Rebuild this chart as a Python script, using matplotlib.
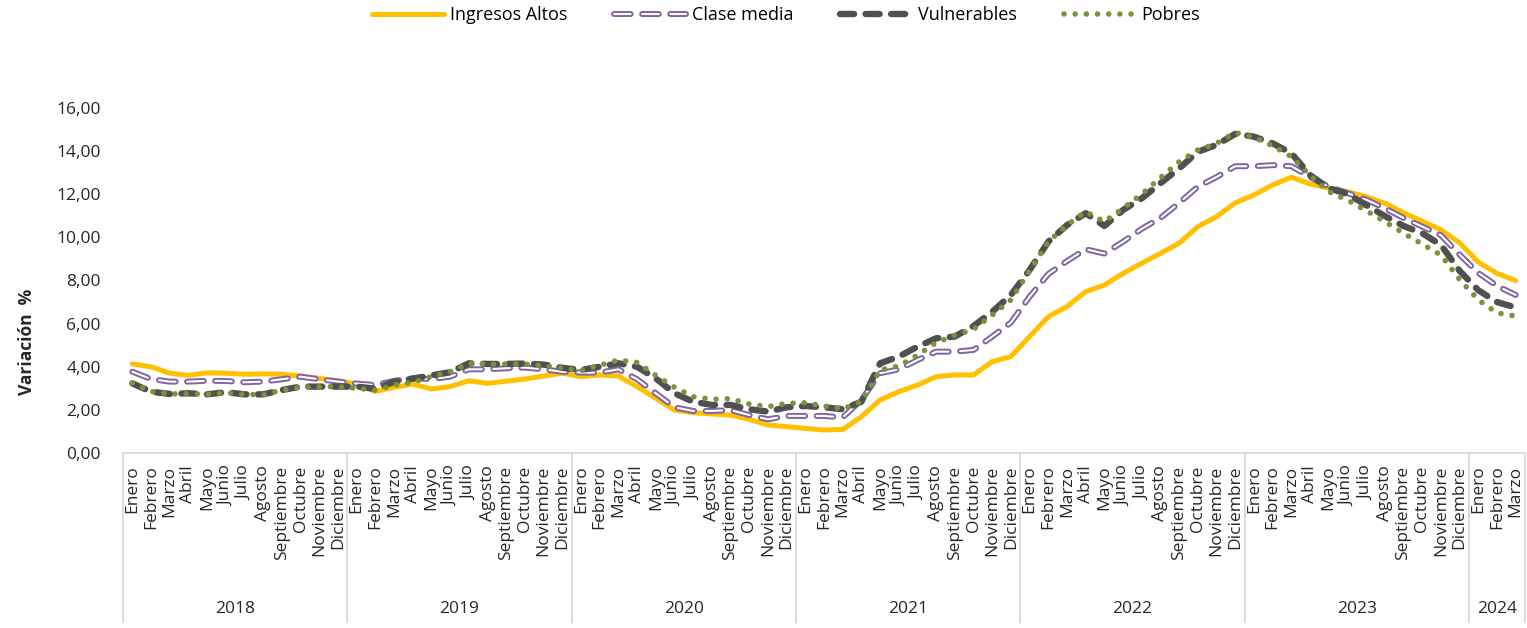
import matplotlib
matplotlib.use("Agg")
import matplotlib.pyplot as plt
import matplotlib.patheffects as pe
from matplotlib.transforms import blended_transform_factory

plt.rcParams["font.family"] = ["Open Sans", "DejaVu Sans"]

months = ["Enero", "Febrero", "Marzo", "Abril", "Mayo", "Junio", "Julio",
          "Agosto", "Septiembre", "Octubre", "Noviembre", "Diciembre"]
years = ["2018", "2019", "2020", "2021", "2022", "2023", "2024"]
months_per_year = [12, 12, 12, 12, 12, 12, 3]

ingresos_altos = [
    4.13, 4.00, 3.70, 3.60, 3.72, 3.70, 3.65, 3.67, 3.65, 3.57, 3.46, 3.35,
    3.20, 2.85, 3.05, 3.19, 2.97, 3.08, 3.35, 3.23, 3.33, 3.43, 3.57, 3.70,
    3.54, 3.62, 3.57, 3.08, 2.54, 1.99, 1.87, 1.81, 1.76, 1.56, 1.30, 1.22,
    1.14, 1.07, 1.09, 1.68, 2.46, 2.84, 3.15, 3.54, 3.62, 3.62, 4.24, 4.47,
    5.40, 6.32, 6.79, 7.48, 7.79, 8.33, 8.80, 9.26, 9.73, 10.50, 10.96, 11.60,
    11.97, 12.43, 12.79, 12.48, 12.28, 12.12, 11.89, 11.58, 11.15, 10.75, 10.35, 9.75,
    8.85, 8.33, 7.99,
]
clase_media = [
    3.77, 3.43, 3.31, 3.31, 3.35, 3.34, 3.28, 3.31, 3.42, 3.54, 3.42, 3.31,
    3.22, 3.15, 3.35, 3.46, 3.43, 3.54, 3.88, 3.88, 3.93, 3.96, 3.88, 3.77,
    3.73, 3.73, 3.88, 3.42, 2.77, 2.12, 1.95, 1.95, 1.99, 1.76, 1.56, 1.72,
    1.72, 1.72, 1.65, 2.46, 3.70, 3.88, 4.31, 4.70, 4.70, 4.78, 5.40, 6.05,
    7.25, 8.30, 8.90, 9.45, 9.25, 9.80, 10.40, 10.90, 11.60, 12.35, 12.80, 13.30,
    13.30, 13.35, 13.30, 12.80, 12.35, 12.05, 11.75, 11.35, 10.90, 10.50, 10.10, 9.20,
    8.35, 7.75, 7.33,
]
vulnerables = [
    3.23, 2.84, 2.74, 2.77, 2.72, 2.82, 2.72, 2.72, 2.92, 3.08, 3.08, 3.08,
    3.08, 2.98, 3.30, 3.45, 3.60, 3.75, 4.16, 4.13, 4.13, 4.15, 4.10, 3.95,
    3.85, 4.00, 4.16, 4.00, 3.46, 2.77, 2.38, 2.23, 2.23, 2.03, 1.92, 2.12,
    2.18, 2.12, 2.03, 2.38, 4.16, 4.47, 4.93, 5.32, 5.40, 5.89, 6.55, 7.33,
    8.49, 9.80, 10.57, 11.12, 10.53, 11.27, 11.81, 12.51, 13.20, 13.97, 14.29, 14.80,
    14.67, 14.36, 13.90, 12.89, 12.28, 12.01, 11.50, 10.99, 10.53, 10.19, 9.65, 8.45,
    7.55, 7.00, 6.75,
]
pobres = [
    3.25, 2.85, 2.74, 2.75, 2.72, 2.80, 2.72, 2.70, 2.92, 3.05, 3.07, 3.08,
    3.00, 2.92, 3.15, 3.28, 3.54, 3.77, 4.16, 4.12, 4.12, 4.12, 4.05, 3.93,
    3.82, 4.07, 4.31, 4.20, 3.60, 3.05, 2.61, 2.49, 2.52, 2.27, 2.15, 2.30,
    2.33, 2.18, 2.04, 2.38, 3.85, 4.03, 4.54, 5.12, 5.46, 5.74, 6.40, 7.10,
    8.46, 9.80, 10.57, 11.19, 10.73, 11.35, 12.01, 12.77, 13.51, 14.05, 14.36, 14.86,
    14.64, 14.25, 13.74, 12.88, 12.12, 11.73, 11.24, 10.73, 10.19, 9.69, 9.18, 8.05,
    7.10, 6.50, 6.35,
]

# month labels for the whole period
labels = []
for n in months_per_year:
    labels += months[:n]
x = list(range(len(labels)))

W, H = 1527, 628
fig = plt.figure(figsize=(W / 100, H / 100), dpi=100)
ax = fig.add_axes([123 / W, 1 - 453 / H, (1525 - 123) / W, (453 - 108) / H])

ax.plot(x, ingresos_altos, color="#FFC000", lw=3.6, solid_capstyle="round",
        solid_joinstyle="round", label="Ingresos Altos")
ax.plot(x, clase_media, color="white", lw=1.5, linestyle=(0, (8, 5.5)),
        dash_capstyle="round", dash_joinstyle="round", label="Clase media",
        path_effects=[pe.Stroke(linewidth=4.3, foreground="#8064A2"), pe.Normal()])
ax.plot(x, vulnerables, color="#505050", lw=4.6, linestyle=(0, (2.2, 1.8)),
        dash_capstyle="round", dash_joinstyle="round", label="Vulnerables")
ax.plot(x, pobres, color="#77933C", lw=4.0, linestyle=(0, (0.01, 2.0)),
        dash_capstyle="round", label="Pobres")

ax.set_xlim(-0.5, len(x) - 0.5)
ax.set_ylim(0, 16)
ax.set_yticks(range(0, 17, 2))
ax.set_yticklabels([f"{v:.2f}".replace(".", ",") for v in range(0, 17, 2)],
                   fontsize=12.5, color="#262626")
ax.tick_params(axis="y", length=0, pad=16)

ax.set_xticks(x)
ax.set_xticklabels(labels, rotation=90, fontsize=12.5, color="#262626",
                   va="top", ha="center")
ax.tick_params(axis="x", length=0, pad=9)

for s in ["top", "right", "left"]:
    ax.spines[s].set_visible(False)
ax.spines["bottom"].set_color("#D9D9D9")
ax.spines["bottom"].set_linewidth(1.3)

# year separators and year labels below the months
trans = blended_transform_factory(ax.transData, ax.transAxes)
start = 0
bounds = [-0.5]
for yr, n in zip(years, months_per_year):
    ax.text(start + (n - 1) / 2, -0.452, yr, transform=trans, ha="center",
            va="center", fontsize=12.5, color="#262626")
    start += n
    bounds.append(start - 0.5)
for b in bounds:
    ax.plot([b, b], [0, -0.49], transform=trans, color="#D9D9D9", lw=1.3,
            clip_on=False)

fig.text(27 / W, 1 - 342 / H, "Variación  %", rotation=90, fontsize=12.5,
         fontweight="bold", ha="center", va="center", color="#262626")

fig.legend(loc="center", bbox_to_anchor=(786 / W, 1 - 15 / H), ncol=4,
           frameon=False, fontsize=13, handlelength=4.0, handletextpad=0.3,
           columnspacing=2.6)

fig.savefig("out.png", dpi=100)
